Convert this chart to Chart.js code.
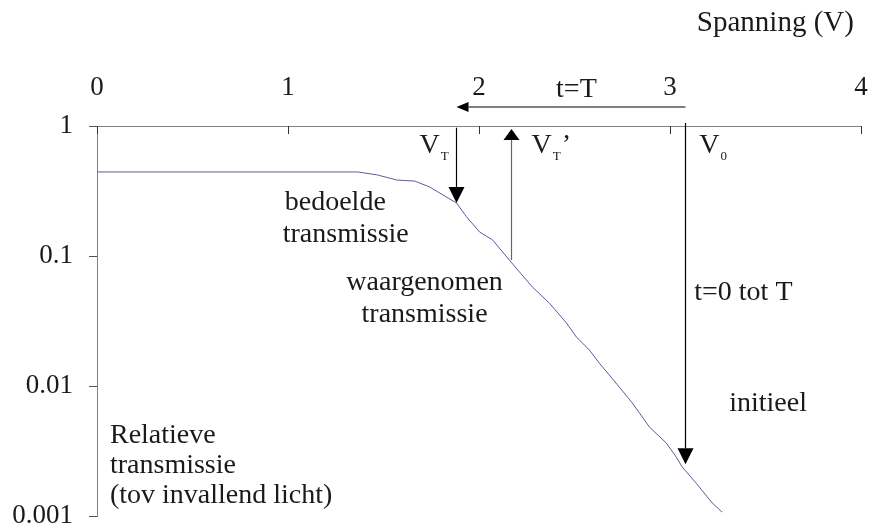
<!DOCTYPE html>
<html>
<head>
<meta charset="utf-8">
<script src="https://cdn.jsdelivr.net/npm/chart.js@4"></script>
<style>
  html, body { margin: 0; padding: 0; background: #fff; }
  #wrap { width: 871px; height: 529px; }
</style>
</head>
<body>
<div id="wrap"><canvas id="c" width="871" height="529"></canvas></div>
<script>
// Transmission curve: applied voltage (V) against relative transmission
const voltage = [0, 1.365, 1.469, 1.569, 1.663, 1.741, 1.830, 1.882, 1.935, 2.003, 2.071, 2.159,
                 2.279, 2.368, 2.458, 2.510, 2.578, 2.630, 2.735, 2.803, 2.892, 2.980, 3.033,
                 3.064, 3.137, 3.221, 3.273];
const transmission = [0.443, 0.443, 0.42, 0.384, 0.377, 0.34, 0.284, 0.256, 0.2, 0.153, 0.133, 0.093,
                      0.0578, 0.0435, 0.0305, 0.0238, 0.0189, 0.015, 0.0098, 0.0074, 0.00484, 0.00365, 0.00284,
                      0.00238, 0.00179, 0.00126, 0.00107];

const xTicks = [0, 1, 2, 3, 4];
const yTicks = [1, 0.1, 0.01, 0.001];
const yTickLabels = ['1', '0.1', '0.01', '0.001'];

const FONT = "'Liberation Serif', 'Times New Roman', serif";
const TEXT = '#1a1a1a';

// Arrows in data units [volt, transmission]
const arrows = [
  { from: [3.08, 1.4],   to: [1.88, 1.4],     len: 12, wid: 10, line: '#000', head: '#000' },  // t=T
  { from: [1.88, 0.97],  to: [1.88, 0.256],   len: 16, wid: 16, line: '#000', head: '#000' },  // V_T
  { from: [2.17, 0.093], to: [2.17, 0.95],    len: 11, wid: 16, line: '#666', head: '#000' },  // V_T'
  { from: [3.08, 1.055], to: [3.08, 0.0025],  len: 16, wid: 16, line: '#000', head: '#000' }   // V_0
];

// Free text labels, anchored at [volt, transmission] on the text baseline
const notes = [
  { text: 't=T', x: 2.51, y: 1.67, align: 'center', size: 28 },
  { text: 'bedoelde', x: 0.983, y: 0.226, align: 'left', size: 28 },
  { text: 'transmissie', x: 0.9725, y: 0.128, align: 'left', size: 28 },
  { text: 'waargenomen', x: 1.715, y: 0.0548, align: 'center', size: 28 },
  { text: 'transmissie', x: 1.715, y: 0.031, align: 'center', size: 28 },
  { text: 't=0 tot T', x: 3.127, y: 0.0459, align: 'left', size: 28 },
  { text: 'initieel', x: 3.31, y: 0.00643, align: 'left', size: 28 },
  { text: 'Relatieve', x: 0.068, y: 0.00364, align: 'left', size: 28 },
  { text: 'transmissie', x: 0.068, y: 0.00214, align: 'left', size: 28 },
  { text: '(tov invallend licht)', x: 0.068, y: 0.00126, align: 'left', size: 28 },
  { text: 'Spanning (V)', x: 3.963, y: 5.38, align: 'right', size: 29 }
];

// Voltage symbols with subscripts
const symbols = [
  { main: 'V', sub: 'T', suffix: '',  x: 1.689, y: 0.62 },
  { main: 'V', sub: 'T', suffix: '\u2019', x: 2.275, y: 0.62 },
  { main: 'V', sub: '0', suffix: '',  x: 3.153, y: 0.62 }
];

function drawArrow(ctx, x0, y0, x1, y1, len, wid, line, head) {
  const ang = Math.atan2(y1 - y0, x1 - x0);
  const bx = x1 - Math.cos(ang) * len, by = y1 - Math.sin(ang) * len;
  ctx.strokeStyle = line; ctx.lineWidth = 1.2;
  ctx.beginPath(); ctx.moveTo(x0, y0); ctx.lineTo(bx, by); ctx.stroke();
  const nx = -Math.sin(ang) * wid / 2, ny = Math.cos(ang) * wid / 2;
  ctx.fillStyle = head;
  ctx.beginPath();
  ctx.moveTo(x1, y1);
  ctx.lineTo(bx + nx, by + ny);
  ctx.lineTo(bx - nx, by - ny);
  ctx.closePath(); ctx.fill();
}

const annotate = {
  id: 'annotate',
  afterDatasetsDraw(chart) {
    const { ctx, chartArea: a, scales: { x, y } } = chart;
    ctx.save();
    // tick marks of the voltage axis point into the plot
    ctx.strokeStyle = '#333'; ctx.lineWidth = 1;
    xTicks.forEach(v => {
      const px = Math.round(x.getPixelForValue(v)) + 0.5;
      ctx.beginPath(); ctx.moveTo(px, a.top); ctx.lineTo(px, a.top + 8); ctx.stroke();
    });

    arrows.forEach(ar => {
      drawArrow(ctx,
        Math.round(x.getPixelForValue(ar.from[0])) + 0.5, y.getPixelForValue(ar.from[1]),
        Math.round(x.getPixelForValue(ar.to[0])) + 0.5, y.getPixelForValue(ar.to[1]),
        ar.len, ar.wid, ar.line, ar.head);
    });

    ctx.fillStyle = TEXT;
    ctx.textBaseline = 'alphabetic';
    notes.forEach(n => {
      ctx.font = `${n.size}px ${FONT}`;
      ctx.textAlign = n.align;
      ctx.fillText(n.text, x.getPixelForValue(n.x), y.getPixelForValue(n.y));
    });

    ctx.textAlign = 'left';
    symbols.forEach(s => {
      const px = x.getPixelForValue(s.x), py = y.getPixelForValue(s.y);
      ctx.font = `28px ${FONT}`;
      ctx.fillText(s.main, px, py);
      const w = ctx.measureText(s.main).width;
      ctx.font = `13px ${FONT}`;
      ctx.fillText(s.sub, px + w + 1, py + 7);
      const ws = ctx.measureText(s.sub).width;
      if (s.suffix) {
        ctx.font = `28px ${FONT}`;
        ctx.fillText(s.suffix, px + w + ws + 2, py);
      }
    });
    ctx.restore();
  }
};

// label overflow is handled by the layout padding instead of the scales
const clearPadding = s => { s.paddingLeft = 0; s.paddingRight = 0; s.paddingTop = 0; s.paddingBottom = 0; };

new Chart(document.getElementById('c'), {
  type: 'line',
  data: {
    datasets: [{
      data: voltage.map((v, i) => ({ x: v, y: transmission[i] })),
      borderColor: '#5b5b9e',
      borderWidth: 1,
      pointRadius: 0,
      tension: 0,
      fill: false
    }]
  },
  options: {
    responsive: false,
    animation: false,
    layout: { padding: { top: 0, left: 0, right: 10, bottom: 13 } },
    plugins: { legend: { display: false }, tooltip: { enabled: false } },
    scales: {
      x: {
        type: 'linear', position: 'top', min: 0, max: 4,
        afterBuildTicks: s => { s.ticks = xTicks.map(v => ({ value: v })); },
        afterFit: s => { s.height = 126; clearPadding(s); },
        ticks: {
          font: { family: FONT, size: 27 }, color: TEXT, padding: 22,
          maxRotation: 0, autoSkip: false, callback: v => String(v)
        },
        grid: { display: true, drawOnChartArea: false, drawTicks: false },
        border: { display: true, color: '#808080', width: 1 }
      },
      y: {
        type: 'logarithmic', position: 'left', min: 0.001, max: 1,
        afterBuildTicks: s => { s.ticks = yTicks.map(v => ({ value: v })); },
        afterFit: s => { s.width = 97; clearPadding(s); },
        ticks: {
          font: { family: FONT, size: 27, lineHeight: 0.9 }, color: TEXT, padding: 16,
          autoSkip: false,
          callback: v => {
            const i = yTicks.findIndex(t => Math.abs(Math.log10(t) - Math.log10(v)) < 1e-6);
            return i >= 0 ? yTickLabels[i] : '';
          }
        },
        grid: { display: true, drawOnChartArea: false, drawTicks: true, tickLength: 8, color: '#555' },
        border: { display: true, color: '#808080', width: 1 }
      }
    }
  },
  plugins: [annotate]
});
</script>
</body>
</html>
